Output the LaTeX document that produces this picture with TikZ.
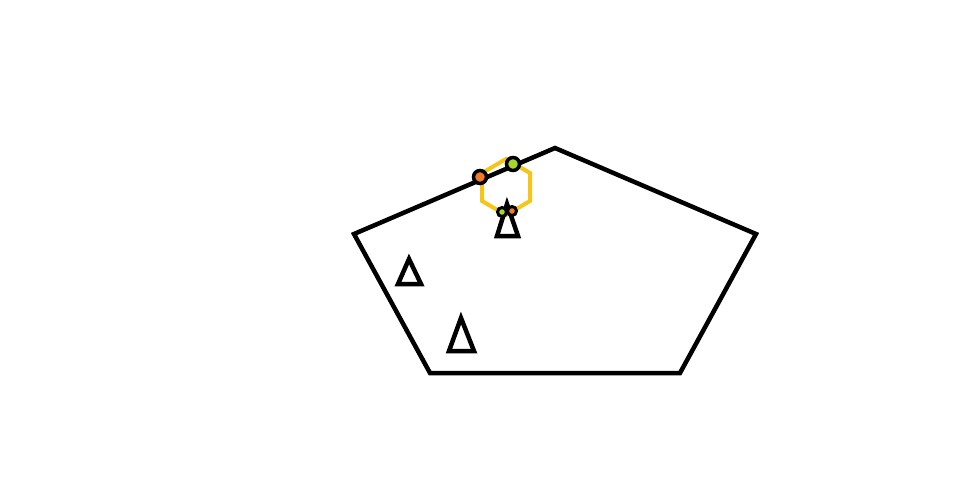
\documentclass[tikz,border=0pt]{standalone}
\begin{document}
\begin{tikzpicture}[x=1pt,y=-1pt,
  edge/.style={draw=black,line width=4.5pt,line join=miter},
  hexa/.style={draw=hexyellow,line width=4pt},
  dotbig/.style={circle,draw=black,line width=3.5pt,inner sep=0pt,minimum size=13pt},
  dotsmall/.style={circle,draw=black,line width=3pt,inner sep=0pt,minimum size=9pt}]
\definecolor{hexyellow}{HTML}{F5C518}
\definecolor{dotorange}{HTML}{F07A2A}
\definecolor{dotgreen}{HTML}{A6D62A}
\useasboundingbox (0,0) rectangle (964,498);
% pentagon
\coordinate (p1) at (354,234);
\coordinate (p2) at (555,148);
\coordinate (p3) at (756,234);
\coordinate (p4) at (680,373);
\coordinate (p5) at (430,373);
\draw[edge] (p1) -- (p2) -- (p3) -- (p4) -- (p5) -- cycle;
% hexagon
\coordinate (h1) at (506,159);
\coordinate (h2) at (530,173);
\coordinate (h3) at (530,201);
\coordinate (h4) at (506,215);
\coordinate (h5) at (482,201);
\coordinate (h6) at (482,173);
\draw[hexa] (h1) -- (h2) -- (h3) -- (h4) -- (h5) -- (h6) -- cycle;
% triangles
\coordinate (t1a) at (507,204);
\coordinate (t1b) at (518,236);
\coordinate (t1c) at (497,236);
\draw[edge] (t1a) -- (t1b) -- (t1c) -- cycle;
\coordinate (t2a) at (409,259);
\coordinate (t2b) at (421,284);
\coordinate (t2c) at (398,284);
\draw[edge] (t2a) -- (t2b) -- (t2c) -- cycle;
\coordinate (t3a) at (461,318);
\coordinate (t3b) at (474,351);
\coordinate (t3c) at (449,351);
\draw[edge] (t3a) -- (t3b) -- (t3c) -- cycle;
% dots
\node[dotbig,fill=dotorange] (d1) at (480,177) {};
\node[dotbig,fill=dotgreen] (d2) at (513,164) {};
\node[dotsmall,fill=dotgreen] (d3) at (502,212) {};
\node[dotsmall,fill=dotorange] (d4) at (512,211) {};
\end{tikzpicture}
\end{document}
